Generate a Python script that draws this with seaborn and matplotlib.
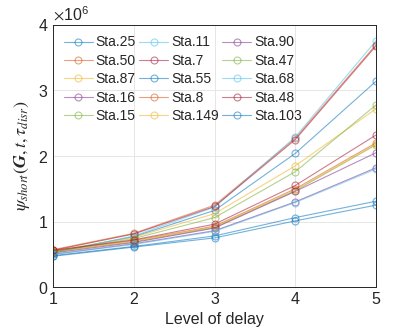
import numpy as np
import pandas as pd
import matplotlib
matplotlib.use("Agg")
import matplotlib.pyplot as plt
import matplotlib.ticker as mticker
import seaborn as sns

levels = [1, 2, 3, 4, 5]
stations = ["Sta.25", "Sta.50", "Sta.87", "Sta.16", "Sta.15",
            "Sta.11", "Sta.7", "Sta.55", "Sta.8", "Sta.149",
            "Sta.90", "Sta.47", "Sta.68", "Sta.48", "Sta.103"]

sta25 = [0.53, 0.77, 1.17, 2.04, 3.14]
sta50 = [0.57, 0.82, 1.25, 2.27, 3.70]
sta87 = [0.55, 0.76, 1.12, 1.85, 2.72]
sta16 = [0.50, 0.66, 0.86, 1.30, 1.82]
sta15 = [0.54, 0.69, 0.91, 1.47, 2.17]
sta11 = [0.52, 0.78, 1.22, 2.29, 3.76]
sta7 = [0.56, 0.81, 1.23, 2.25, 3.68]
sta55 = [0.48, 0.62, 0.78, 1.06, 1.31]
sta8 = [0.55, 0.71, 0.93, 1.50, 2.20]
sta149 = [0.53, 0.70, 0.92, 1.48, 2.18]
sta90 = [0.52, 0.68, 0.90, 1.46, 2.05]
sta47 = [0.54, 0.74, 1.06, 1.76, 2.78]
sta68 = [0.50, 0.65, 0.85, 1.29, 1.80]
sta48 = [0.56, 0.72, 0.96, 1.55, 2.32]
sta103 = [0.47, 0.61, 0.75, 1.01, 1.25]

series = [sta25, sta50, sta87, sta16, sta15, sta11, sta7, sta55, sta8,
          sta149, sta90, sta47, sta68, sta48, sta103]

# matlab default color order
colors = ["#0072BD", "#D95319", "#EDB120", "#7E2F8E", "#77AC30",
          "#4DBEEE", "#A2142F"]

rows = []
for name, vals in zip(stations, series):
    for lv, v in zip(levels, vals):
        rows.append({"level": lv, "value": v * 1e6, "station": name})
df = pd.DataFrame(rows)

sns.set_style("white")
plt.rcParams["font.family"] = ["Liberation Sans", "DejaVu Sans"]
plt.rcParams["mathtext.fontset"] = "stix"

fig = plt.figure(figsize=(4.15, 3.33), dpi=100)
ax = fig.add_axes([0.128, 0.138, 0.778, 0.787])

for i, name in enumerate(stations):
    c = colors[i % 7]
    sns.lineplot(data=df[df["station"] == name], x="level", y="value",
                 ax=ax, color=c, marker="o", markersize=5,
                 markerfacecolor="none", markeredgecolor=c,
                 markeredgewidth=0.8, linewidth=0.8, alpha=0.55,
                 label=name)

ax.set_xlim(1, 5)
ax.set_ylim(0, 4e6)
ax.set_xticks([1, 2, 3, 4, 5])
ax.set_yticks([0, 1e6, 2e6, 3e6, 4e6])
fmt = mticker.ScalarFormatter(useMathText=True)
fmt.set_powerlimits((0, 0))
ax.yaxis.set_major_formatter(fmt)
ax.grid(True, color="#e6e6e6", linewidth=0.7)
ax.tick_params(direction="in", labelsize=11.5, colors="#262626", length=3)
for s in ax.spines.values():
    s.set_color("#262626")
    s.set_linewidth(0.7)
ax.yaxis.get_offset_text().set_fontsize(11.5)

ax.set_xlabel("Level of delay", fontsize=11.5, color="#262626")
ax.set_ylabel(r"$\psi_{short}(\boldsymbol{G}, t, \tau_{disr})$",
              fontsize=13, color="#262626")

ax.legend(ncol=3, loc="upper left", frameon=False, fontsize=10,
          handlelength=2.1, handletextpad=0.2, columnspacing=0.25,
          labelspacing=0.32, borderaxespad=0.35)

fig.savefig("out.png", dpi=100)
